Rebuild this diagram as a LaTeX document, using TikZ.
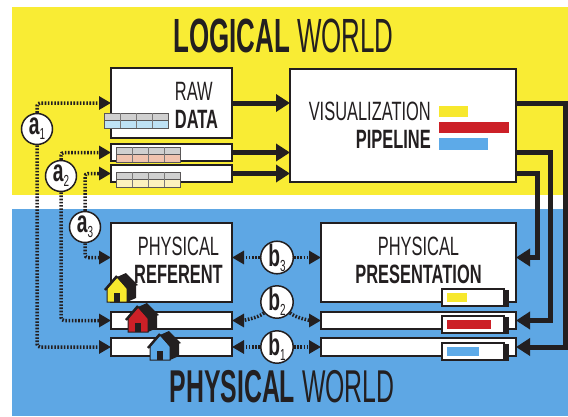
\documentclass[tikz,border=0pt]{standalone}
\usepackage{fontspec}
\usetikzlibrary{arrows.meta,positioning}
\newfontfamily\titlefont[FakeStretch=0.54]{Liberation Sans}
\newfontfamily\boxfont[FakeStretch=0.62]{Liberation Sans}
\definecolor{ink}{RGB}{35,31,32}
\definecolor{yellowbg}{RGB}{249,236,52}
\definecolor{bluebg}{RGB}{94,167,228}
\definecolor{yellowbar}{RGB}{247,232,45}
\definecolor{redbar}{RGB}{204,32,39}
\definecolor{bluebar}{RGB}{93,170,232}
\definecolor{tabgray}{RGB}{208,208,208}
\definecolor{tabblue}{RGB}{190,226,245}
\definecolor{tabsalmon}{RGB}{240,195,175}
\definecolor{tabcream}{RGB}{252,242,190}
\newcommand{\tagname}[2]{{\bfseries #1}\raisebox{-5pt}{\fontsize{16}{16}\selectfont #2}}

\tikzset{
  box/.style={draw=ink, line width=1.5pt, fill=white, inner sep=0pt, outer sep=0pt, anchor=north west},
  boxtext/.style={font=\boxfont\fontsize{26.5}{28}\selectfont, text=ink, inner sep=0pt},
  title/.style={font=\titlefont\fontsize{48}{48}\selectfont, text=ink, inner sep=0pt},
  tag/.style={circle, draw=ink, line width=1.5pt, fill=white, minimum size=31pt, inner sep=0pt,
    font=\boxfont\fontsize{31}{31}\selectfont, text=ink},
  dotarrow/.style={draw=ink, line width=3.5pt, dash pattern=on 1.6pt off 1.6pt, rounded corners=3pt,
    -{Triangle[length=12pt,width=13pt]}},
  bigarrow/.style={draw=ink, line width=5pt, -{Triangle[length=14pt,width=17pt]}},
  pics/house/.style={code={
    \filldraw[fill=#1, draw=ink, line width=1pt] (0,0) -- (20,0) -- (20,-14) -- (10,-25) -- (0,-14) -- cycle;
    \fill[ink] (20,0) -- (29,-4) -- (29,-18) -- (20,-14) -- cycle;
    \fill[ink] (10,-25) -- (19,-29) -- (31,-17) -- (20,-13) -- cycle;
    \draw[ink, line width=2.5pt] (-2,-12) -- (10,-26);
    \fill[ink] (7,0) rectangle (13,-9);
  }}
}

\begin{document}
\begin{tikzpicture}[x=1pt,y=-1pt]
   \useasboundingbox (0,0) rectangle (568,416);
   \fill[yellowbg] (12,7) rectangle (568,195);
   \fill[bluebg] (12,209) rectangle (568,416);

   \node[title] (logical) at (283.5,36) {{\bfseries LOGICAL} WORLD};
   \node[title, font=\titlefont\fontsize{46}{46}\selectfont] (physical) at (282,387) {{\bfseries PHYSICAL} WORLD};

   \node[box, minimum width=121pt, minimum height=70pt] (raw) at (111,68) {};
   \node[box, minimum width=121pt, minimum height=17pt, below=6pt of raw.south west, anchor=north west] (lg2) {};
   \node[box, minimum width=121pt, minimum height=17pt, below=4pt of lg2.south west, anchor=north west] (lg3) {};
   \node[box, minimum width=226pt, minimum height=113pt] (pipe) at (290,69) {};

   \node[box, minimum width=121pt, minimum height=79pt] (referent) at (111,223) {};
   \node[box, minimum width=121pt, minimum height=17pt, below=10pt of referent.south west, anchor=north west] (ph2) {};
   \node[box, minimum width=121pt, minimum height=18pt, below=9pt of ph2.south west, anchor=north west] (ph3) {};
   \node[box, minimum width=195pt, minimum height=79pt, right=89pt of referent.north east, anchor=north west] (presentation) {};
   \node[box, minimum width=195pt, minimum height=17pt, below=10pt of presentation.south west, anchor=north west] (pr2) {};
   \node[box, minimum width=195pt, minimum height=18pt, below=9pt of pr2.south west, anchor=north west] (pr3) {};

   \foreach \x/\y/\c in {104/113/tabblue, 116/147/tabsalmon, 116/172/tabcream}{
     \fill[tabgray] (\x,\y) rectangle ++(64,7.5);
     \fill[\c] (\x,\y+7.5) rectangle ++(64,7.5);
     \draw[ink!75, line width=0.8pt] (\x,\y) rectangle ++(64,15) (\x,\y+7.5) -- ++(64,0);
     \foreach \k in {16,32,48} \draw[ink!60, line width=0.6pt] (\x+\k,\y) -- ++(0,15);
   }

   \node[boxtext, align=left] (rawlabel) at ([xshift=25pt,yshift=-2.5pt]raw.center) {RAW\\\textbf{DATA}};
   \node[boxtext, align=right, anchor=east] (pipelabel) at ([xshift=28pt]pipe.center) {VISUALIZATION\\\textbf{PIPELINE}};
   \node[boxtext, align=center] (reflabel) at ([xshift=7pt,yshift=2.5pt]referent.center) {PHYSICAL\\\textbf{REFERENT}};
   \node[boxtext, align=center] (preslabel) at ([yshift=2.5pt]presentation.center) {PHYSICAL\\\textbf{PRESENTATION}};

   \fill[yellowbar] (439,106) rectangle (468,117);
   \fill[redbar] (439,122) rectangle (509,133);
   \fill[bluebar] (439,138) rectangle (488,150);

   \draw[bigarrow] (raw.east) -- (raw.east -| pipe.west);
   \draw[bigarrow] (lg2.east) -- (lg2.east -| pipe.west);
   \draw[bigarrow] (lg3.east) -- (lg3.east -| pipe.west);
   \draw[bigarrow] (pipe.east |- raw.east) -- ++(49,0) |- (pr3.east);
   \draw[bigarrow] (pipe.east |- lg2.east) -- ++(34,0) |- (pr2.east);
   \draw[bigarrow] (pipe.east |- lg3.east) -- ++(21,0) |- ([yshift=5pt]presentation.east);

   \pic at (107,302) {house=yellowbar};
   \pic at (128,332) {house=redbar};
   \pic at (150,360) {house=bluebar};

   \foreach \y/\c/\w in {289/yellowbar/20, 316/redbar/44, 343/bluebar/32}{
     \fill[ink] (446,\y+1) rectangle (509,\y+18);
     \filldraw[fill=white, draw=ink, line width=1.2pt] (442,\y) rectangle (504,\y+17);
     \fill[\c] (447,\y+4) rectangle ++(\w,9);
   }

   \node[tag] (a1) at (37,129) {\tagname{a}{1}};
   \node[tag] (a2) at (61,176) {\tagname{a}{2}};
   \node[tag] (a3) at (85,227) {\tagname{a}{3}};
   \node[tag] (b3) at (277,257.5) {\tagname{b}{3}};
   \node[tag] (b2) at (277,302) {\tagname{b}{2}};
   \node[tag] (b1) at (277,347) {\tagname{b}{1}};

   \draw[dotarrow] (a1.north) |- (raw.west);
   \draw[dotarrow] (a1.south) |- (ph3.west);
   \draw[dotarrow] (a2.north) |- (lg2.west);
   \draw[dotarrow] (a2.south) |- (ph2.west);
   \draw[dotarrow] (a3.north) |- (lg3.west);
   \draw[dotarrow] (a3.south) |- ([yshift=5pt]referent.west);
   \draw[dotarrow] (b3.west) -- (b3.west -| referent.east);
   \draw[dotarrow] (b3.east) -- (b3.east -| presentation.west);
   \draw[dotarrow] (b2.220) .. controls +(-5,5) and +(10,0) .. (ph2.east);
   \draw[dotarrow] (b2.320) .. controls +(5,5) and +(-10,0) .. (pr2.west);
   \draw[dotarrow] (b1.west) -- (b1.west -| ph3.east);
   \draw[dotarrow] (b1.east) -- (b1.east -| pr3.west);
\end{tikzpicture}
\end{document}
